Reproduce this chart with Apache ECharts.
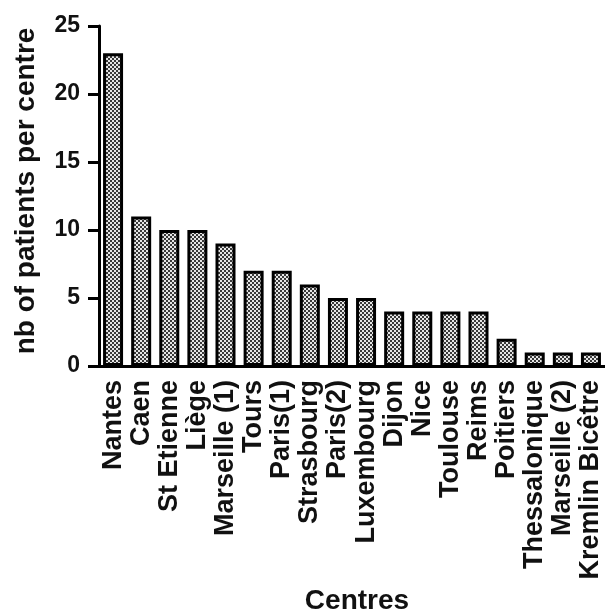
<!DOCTYPE html>
<html>
<head>
<meta charset="utf-8">
<script src="https://cdn.jsdelivr.net/npm/echarts@6/dist/echarts.min.js"></script>
<style>
html,body{margin:0;padding:0;background:#fff;}
#chart{width:605px;height:611px;}
</style>
</head>
<body>
<div id="chart"></div>
<script>
const categories = ["Nantes","Caen","St Etienne","Liège","Marseille (1)","Tours","Paris(1)","Strasbourg","Paris(2)","Luxembourg","Dijon","Nice","Toulouse","Reims","Poitiers","Thessalonique","Marseille (2)","Kremlin Bicêtre"];
const patients = [23,11,10,10,9,7,7,6,5,5,4,4,4,4,2,1,1,1];
const yTicks = [0,5,10,15,20,25];

function makePattern(){
  const c = document.createElement('canvas');
  c.width = 4; c.height = 4;
  const g = c.getContext('2d');
  g.fillStyle = '#3a3a3a'; g.fillRect(0,0,4,4);
  g.fillStyle = '#e6e6e6';
  g.fillRect(0,0,2,2); g.fillRect(2,2,2,2);
  return c;
}

const font = "'Liberation Sans', Arial, sans-serif";
const txt = '#111';
const chart = echarts.init(document.getElementById('chart'));
chart.setOption({
  animation:false,
  grid:{left:99,right:0,top:26,bottom:245,containLabel:false,outerBoundsMode:'none'},
  xAxis:{
    type:'category',
    data:categories,
    name:'Centres',
    nameLocation:'middle',
    nameGap:219,
    nameTextStyle:{fontFamily:font,fontWeight:'bold',fontSize:28,color:txt,padding:[0,0,0,10]},
    axisLine:{lineStyle:{color:'#000',width:3}},
    axisTick:{alignWithLabel:true,length:10,lineStyle:{color:'#000',width:3}},
    axisLabel:{rotate:90,margin:14,interval:0,fontFamily:font,fontWeight:'bold',fontSize:27,color:txt}
  },
  yAxis:{
    type:'value',
    min:yTicks[0],max:yTicks[yTicks.length-1],interval:5,
    name:'nb of patients per centre',
    nameLocation:'middle',
    nameGap:59,
    nameTextStyle:{fontFamily:font,fontWeight:'bold',fontSize:28,color:txt,padding:[0,0,0,10]},
    axisLine:{show:true,lineStyle:{color:'#000',width:3}},
    axisTick:{show:true,length:11,lineStyle:{color:'#000',width:3}},
    axisLabel:{margin:19,fontFamily:font,fontWeight:'bold',fontSize:23,color:txt},
    splitLine:{show:false}
  },
  series:[{
    type:'bar',
    data:patients,
    barWidth:20,
    itemStyle:{color:{image:makePattern(),repeat:'repeat'},borderColor:'#000',borderWidth:3}
  }]
});
</script>
</body>
</html>
